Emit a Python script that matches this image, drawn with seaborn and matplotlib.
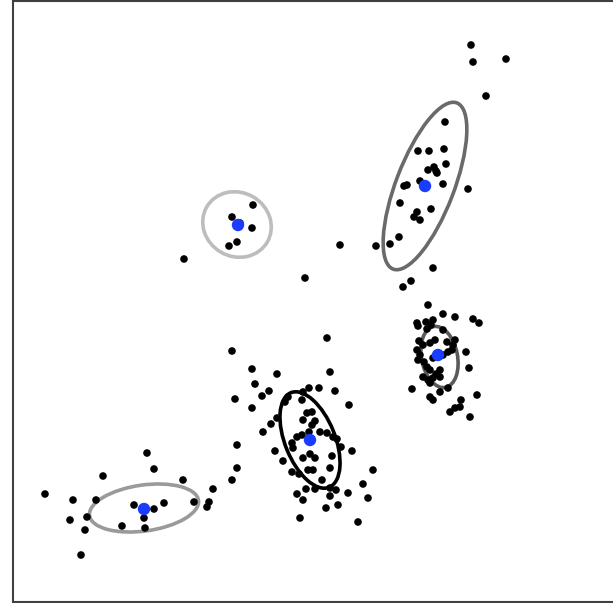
import matplotlib
matplotlib.use("Agg")
import matplotlib.pyplot as plt
from matplotlib.patches import Ellipse
import seaborn as sns
import pandas as pd

# ---- data (arbitrary units) ----
pts_x = [
    # upper right group
    471, 473, 506, 486, 445, 418, 429, 444, 446, 428, 434, 437, 436, 420, 407, 404, 443, 468,
    400, 431, 417, 414, 420, 399, 390, 376, 433, 411, 403, 340, 305,
    # small group
    253, 232, 240, 252, 237, 229, 184,
    # right group
    428, 417, 426, 418, 433, 443, 455, 473, 479, 431, 443, 435, 447, 455, 430, 423, 417, 420,
    418, 453, 452, 448, 443, 433, 466, 427, 430, 440, 423, 428, 433, 440, 430, 469, 448, 440,
    412, 430, 433, 461, 477, 460, 455, 450, 470, 419, 424, 436, 427,
    # middle group
    327, 232, 252, 277, 330, 255, 269, 262, 235, 309, 319, 335, 303, 288, 285, 302, 252, 349,
    307, 312, 303, 315, 312, 271, 263, 277, 297, 302, 309, 320, 327, 333, 337, 292, 293, 341,
    352, 237, 275, 283, 303, 310, 315, 332, 330, 308, 313, 292, 299, 237, 232, 322, 373, 306,
    315, 330, 336, 363, 348, 330, 297, 303, 368, 338, 326, 300, 358,
    # lower left group
    213, 209, 207, 194, 183, 147, 154, 103, 45, 73, 96, 134, 164, 154, 87, 70, 144, 122, 145,
    85, 81,
]
pts_y = [
    558, 541, 544, 507, 481, 452, 452, 454, 439, 433, 436, 430, 432, 422, 418, 417, 419, 414,
    400, 394, 391, 386, 383, 366, 359, 357, 335, 322, 316, 358, 325,
    398, 386, 380, 375, 361, 357, 344,
    298, 280, 281, 277, 283, 289, 286, 284, 280, 278, 273, 263, 261, 263, 260, 258, 253, 248,
    243, 258, 253, 251, 248, 245, 251, 236, 233, 233, 226, 223, 225, 226, 220, 235, 215, 211,
    214, 206, 203, 203, 208, 196, 195, 191, 186, 262, 241, 229, 274,
    265, 252, 234, 229, 231, 219, 212, 207, 204, 215, 215, 212, 211, 206, 201, 203, 195, 198,
    190, 191, 183, 182, 178, 179, 171, 185, 166, 168, 171, 171, 170, 166, 164, 160, 155, 156,
    152, 158, 152, 142, 145, 149, 145, 147, 135, 133, 133, 131, 129, 135, 123, 123, 133, 114,
    114, 115, 113, 119, 110, 107, 109, 103, 105, 98, 95, 85, 81,
    114, 101, 96, 101, 123, 150, 134, 127, 109, 103, 103, 98, 100, 94, 86, 83, 85, 77, 75,
    73, 48,
]

# component means
mean_x = [425, 238, 438, 310, 144]
mean_y = [417, 378, 248, 163, 94]

# component ellipses: centre, major, minor, angle (deg), grey level
ell_cx = [425, 237, 439.5, 310, 144]
ell_cy = [417, 378.5, 246, 163, 95]
ell_w = [178, 70, 62, 102, 110]
ell_h = [58, 64, 36, 50, 46]
ell_ang = [69, -30, 101, 112, 8]
ell_col = ["#6a6a6a", "#bdbdbd", "#5a5a5a", "#000000", "#9a9a9a"]

df = pd.DataFrame({"x": pts_x, "y": pts_y})
dm = pd.DataFrame({"x": mean_x, "y": mean_y})

sns.set_style("white")
fig = plt.figure(figsize=(6.13, 6.03), dpi=100)
ax = fig.add_axes([12.5 / 613, 1 / 603, (616 - 12.5) / 613, 601 / 603])

for cx, cy, w, h, a, c in zip(ell_cx, ell_cy, ell_w, ell_h, ell_ang, ell_col):
    ax.add_patch(Ellipse((cx, cy), w, h, angle=a, fill=False, edgecolor=c, linewidth=2.6, zorder=1))

sns.scatterplot(data=df, x="x", y="y", color="black", s=30, edgecolor="none", ax=ax, zorder=2)
sns.scatterplot(data=dm, x="x", y="y", color="#1a3cff", s=80, edgecolor="none", ax=ax, zorder=3)

ax.set_xlim(12.5, 616)
ax.set_ylim(1, 602)
ax.set_xticks([])
ax.set_yticks([])
ax.set_xlabel("")
ax.set_ylabel("")
for sp in ax.spines.values():
    sp.set_color("#404040")
    sp.set_linewidth(1.5)

fig.savefig("out.png", dpi=100)
